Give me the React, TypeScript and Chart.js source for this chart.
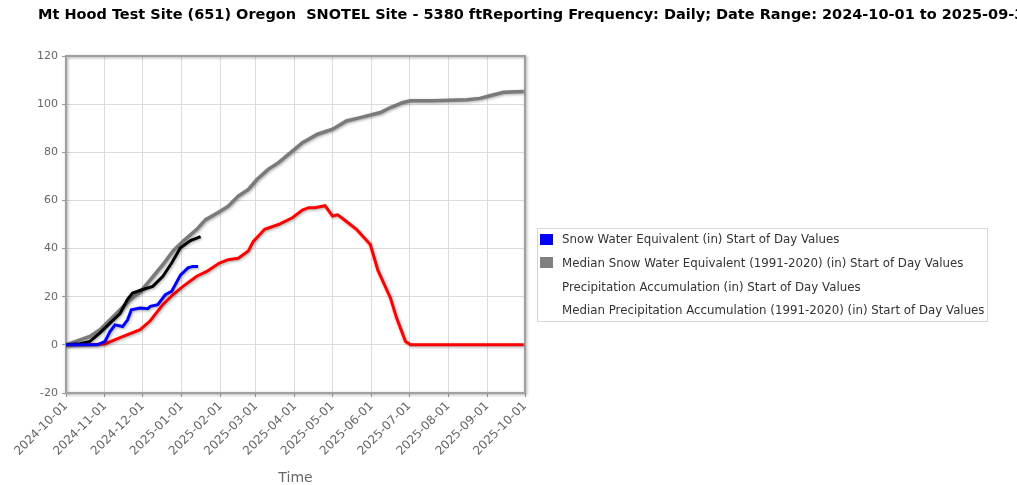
import React, { useEffect, useRef } from 'react';
import { Chart, registerables } from 'chart.js';

Chart.register(...registerables);

const TITLE = 'Mt Hood Test Site (651) Oregon  SNOTEL Site - 5380 ftReporting Frequency: Daily; Date Range: 2024-10-01 to 2025-09-30';

const MONTH_TICKS = [
  '2024-10-01', '2024-11-01', '2024-12-01', '2025-01-01', '2025-02-01', '2025-03-01', '2025-04-01',
  '2025-05-01', '2025-06-01', '2025-07-01', '2025-08-01', '2025-09-01', '2025-10-01',
];

const Y_MIN = -20;
const Y_MAX = 120;
const Y_STEP = 20;

// Snow Water Equivalent (current)
const SWE_DATES = [
  '2024-10-01', '2024-10-26', '2024-11-01', '2024-11-05', '2024-11-09', '2024-11-15', '2024-11-19',
  '2024-11-22', '2024-11-29', '2024-12-05', '2024-12-07', '2024-12-13', '2024-12-19', '2024-12-24',
  '2024-12-31', '2025-01-06', '2025-01-10', '2025-01-14',
];
const SWE_VALUES = [0, 0, 1.4, 5.5, 8.3, 7.6, 10.4, 14.6, 15.3, 15, 16, 16.7, 20.8, 22.2, 29, 32, 32.6, 32.6];

// Precipitation accumulation (current)
const PREC_DATES = [
  '2024-10-01', '2024-10-12', '2024-10-20', '2024-10-28', '2024-11-05', '2024-11-13', '2024-11-19',
  '2024-11-23', '2024-12-01', '2024-12-09', '2024-12-17', '2024-12-24', '2024-12-31', '2025-01-08',
  '2025-01-16',
];
const PREC_VALUES = [0, 0.5, 1.4, 5, 9, 13, 19, 21.5, 23, 24.3, 28.5, 34, 40.3, 43.3, 45];

// Median snow water equivalent (1991-2020)
const MED_SWE_DATES = [
  '2024-10-01', '2024-10-20', '2024-11-01', '2024-11-13', '2024-11-29', '2024-12-07', '2024-12-17',
  '2024-12-25', '2025-01-02', '2025-01-13', '2025-01-21', '2025-01-31', '2025-02-07', '2025-02-15',
  '2025-02-23', '2025-02-27', '2025-03-08', '2025-03-19', '2025-03-30', '2025-04-07', '2025-04-12',
  '2025-04-17', '2025-04-25', '2025-05-01', '2025-05-05', '2025-05-09', '2025-05-20', '2025-05-31',
  '2025-06-06', '2025-06-16', '2025-06-21', '2025-06-28', '2025-07-02', '2025-09-30',
];
const MED_SWE_VALUES = [
  0, 0, 0.4, 3, 6.3, 10, 16.7, 20.8, 24.3, 28.5, 30.5, 34, 35.4, 36, 39, 43, 48, 50, 52.8, 56,
  57, 57, 57.8, 53.5, 54, 52.5, 48, 41.7, 31, 19.5, 11, 1.4, 0, 0,
];

// Median precipitation accumulation (1991-2020)
const MED_PREC_DATES = [
  '2024-10-01', '2024-10-20', '2024-10-28', '2024-11-05', '2024-11-13', '2024-11-21', '2024-11-29',
  '2024-12-07', '2024-12-17', '2024-12-25', '2025-01-02', '2025-01-13', '2025-01-20', '2025-01-30',
  '2025-02-07', '2025-02-15', '2025-02-23', '2025-03-02', '2025-03-11', '2025-03-19', '2025-03-30',
  '2025-04-07', '2025-04-19', '2025-05-01', '2025-05-12', '2025-05-23', '2025-06-08', '2025-06-16',
  '2025-06-26', '2025-07-02', '2025-07-20', '2025-08-16', '2025-08-26', '2025-09-03', '2025-09-14',
  '2025-09-30',
];
const MED_PREC_VALUES = [
  0, 3.5, 6.3, 10.4, 14.6, 18.8, 22, 27, 33.3, 38.9, 43, 48, 52, 55, 57.6, 61.8, 64.6, 68.8, 73,
  75.7, 80.5, 84, 87.5, 89.6, 93, 94.4, 96.5, 98.6, 100.7, 101.4, 101.4, 101.8, 102.4, 103.5, 104.9,
  105.3,
];

const LEGEND_ITEMS = [
  { label: 'Snow Water Equivalent (in) Start of Day Values', swatch: '#0000ff' },
  { label: 'Median Snow Water Equivalent (1991-2020) (in) Start of Day Values', swatch: '#808080' },
  { label: 'Precipitation Accumulation (in) Start of Day Values', swatch: null },
  { label: 'Median Precipitation Accumulation (1991-2020) (in) Start of Day Values', swatch: null },
];

function dayOf(s: string): number {
  const [y, m, d] = s.split('-').map(Number);
  return Math.round((Date.UTC(y, m - 1, d) - Date.UTC(2024, 9, 1)) / 86400000);
}

function toPoints(dates: string[], values: number[]) {
  return dates.map((d, i) => ({ x: dayOf(d), y: values[i] }));
}

const W = 1017;
const H = 485;
const AREA_LEFT = 66;
const AREA_RIGHT = 525;
const AREA_TOP = 56;
const AREA_BOTTOM = 393;

const framePlugin = {
  id: 'frameAndShadow',
  beforeDatasetsDraw(chart: any) {
    const ctx = chart.ctx;
    const a = chart.chartArea;
    ctx.save();
    ctx.shadowColor = 'rgba(0,0,0,0.35)';
    ctx.shadowBlur = 3;
    ctx.shadowOffsetX = 1;
    ctx.shadowOffsetY = 1;
    ctx.strokeStyle = '#a0a0a0';
    ctx.lineWidth = 2;
    ctx.strokeRect(a.left, a.top, a.right - a.left, a.bottom - a.top);
    ctx.restore();
    ctx.save();
    ctx.shadowColor = 'rgba(0,0,0,0.35)';
    ctx.shadowBlur = 3;
    ctx.shadowOffsetX = 1;
    ctx.shadowOffsetY = 1;
  },
  afterDatasetsDraw(chart: any) {
    chart.ctx.restore();
  },
};

export default function App() {
  const canvasRef = useRef<HTMLCanvasElement | null>(null);

  useEffect(() => {
    const canvas = canvasRef.current;
    if (!canvas) return;
    const tickDays = MONTH_TICKS.map(dayOf);
    const line = (label: string, color: string, width: number, dates: string[], values: number[]) => ({
      label,
      data: toPoints(dates, values),
      borderColor: color,
      backgroundColor: color,
      borderWidth: width,
      pointRadius: 0,
      tension: 0,
      fill: false,
    });
    const chart = new Chart(canvas, {
      type: 'line',
      data: {
        datasets: [
          line('Snow Water Equivalent (in) Start of Day Values', '#0000ff', 3, SWE_DATES, SWE_VALUES),
          line('Precipitation Accumulation (in) Start of Day Values', '#000000', 3, PREC_DATES, PREC_VALUES),
          line('Median Snow Water Equivalent (1991-2020) (in) Start of Day Values', '#ff0000', 3, MED_SWE_DATES, MED_SWE_VALUES),
          line('Median Precipitation Accumulation (1991-2020) (in) Start of Day Values', '#7a7a7a', 3.5, MED_PREC_DATES, MED_PREC_VALUES),
        ],
      },
      options: {
        animation: false,
        responsive: false,
        layout: { padding: { left: 0, right: W - AREA_RIGHT, top: AREA_TOP, bottom: 0 } },
        plugins: {
          legend: { display: false },
          tooltip: { enabled: false },
        },
        scales: {
          x: {
            type: 'linear',
            min: tickDays[0],
            max: tickDays[tickDays.length - 1],
            afterBuildTicks: (scale: any) => {
              scale.ticks = tickDays.map((v) => ({ value: v }));
            },
            afterFit: (scale: any) => {
              scale.height = H - AREA_BOTTOM;
            },
            ticks: {
              autoSkip: false,
              minRotation: 45,
              maxRotation: 45,
              color: '#666',
              font: { family: 'DejaVu Sans', size: 12 },
              padding: 2,
              callback: (value: any) => {
                const i = tickDays.indexOf(Number(value));
                return i >= 0 ? MONTH_TICKS[i] : '';
              },
            },
            grid: { color: '#dcdcdc', lineWidth: 1, tickLength: 4, tickColor: '#999' },
            border: { display: false },
            title: {
              display: true,
              text: 'Time',
              color: '#666',
              font: { family: 'DejaVu Sans', size: 14 },
              padding: { top: 0, bottom: -2 },
            },
          },
          y: {
            type: 'linear',
            min: Y_MIN,
            max: Y_MAX,
            afterFit: (scale: any) => {
              scale.width = AREA_LEFT;
            },
            ticks: {
              stepSize: Y_STEP,
              color: '#666',
              font: { family: 'DejaVu Sans', size: 11 },
              padding: 4,
            },
            grid: { color: '#dcdcdc', lineWidth: 1, tickLength: 4, tickColor: '#999' },
            border: { display: false },
          },
        },
      },
      plugins: [framePlugin],
    });
    return () => chart.destroy();
  }, []);

  return (
    <div style={{ position: 'absolute', left: 0, top: 0, width: W, height: H, background: '#fff', overflow: 'hidden' }}>
      <canvas ref={canvasRef} width={W} height={H} style={{ position: 'absolute', left: 0, top: 0, width: W, height: H }} />
      <div
        style={{
          position: 'absolute',
          left: 38,
          top: 6,
          whiteSpace: 'pre',
          fontFamily: 'DejaVu Sans',
          fontWeight: 'bold',
          fontSize: 14.5,
          color: '#000',
        }}
      >
        {TITLE}
      </div>
      <div
        style={{
          position: 'absolute',
          left: 537,
          top: 228,
          width: 451,
          height: 94,
          border: '1px solid #d8d8d8',
          boxSizing: 'border-box',
        }}
      />
      {LEGEND_ITEMS.map((item, i) => (
        <div
          key={i}
          style={{
            position: 'absolute',
            left: 540,
            top: 231 + i * 23.8,
            height: 16,
            display: 'flex',
            alignItems: 'center',
            whiteSpace: 'nowrap',
          }}
        >
          <span
            style={{
              display: 'inline-block',
              width: 13,
              height: 11,
              background: item.swatch || 'transparent',
              marginRight: 9,
            }}
          />
          <span style={{ fontFamily: 'DejaVu Sans', fontSize: 11.8, color: '#333' }}>{item.label}</span>
        </div>
      ))}
    </div>
  );
}
